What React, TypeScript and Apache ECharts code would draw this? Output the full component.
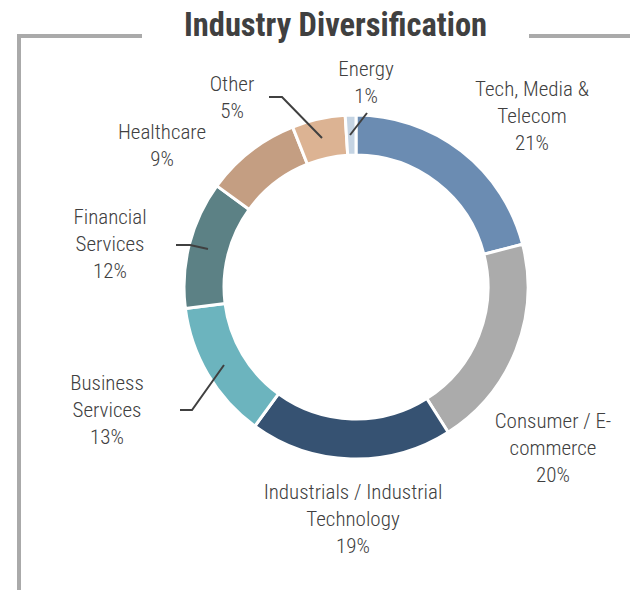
import React, { useEffect, useRef } from "react";
import * as echarts from "echarts";

const categories = [
  "Tech, Media &\nTelecom",
  "Consumer / E-\ncommerce",
  "Industrials / Industrial\nTechnology",
  "Business\nServices",
  "Financial\nServices",
  "Healthcare",
  "Other",
  "Energy",
];
const values = [21, 20, 19, 13, 12, 9, 5, 1];
const colors = ["#6b8cb2", "#ababab", "#365272", "#6cb4be", "#5c8185", "#c49e82", "#dcb393", "#c5d4e3"];
const showLine = [false, false, false, true, true, false, true, true];

// label centers and leader-line paths (layout only)
const labelPos = [
  [532, 116],
  [553, 448],
  [353, 519],
  [107, 410],
  [110, 244],
  [162, 145],
  [232, 97],
  [366, 82],
];
const linePaths: (number[][] | null)[] = [
  null,
  null,
  null,
  [[224, 365], [192, 410], [180, 410]],
  [[208, 249], [190, 245], [176, 245]],
  null,
  [[322, 138], [282, 97], [269, 97]],
  [[350, 135], [367, 113]],
];

const FONT = "'Roboto Condensed', 'Arial Narrow', 'Liberation Sans', Arial, sans-serif";

export default function App() {
  const ref = useRef<HTMLDivElement>(null);
  useEffect(() => {
    if (!ref.current) return;
    const chart = echarts.init(ref.current, null, { renderer: "svg" });
    const common = {
      type: "pie",
      center: [356, 287],
      radius: [132, 172],
      startAngle: 90,
      clockwise: true,
      avoidLabelOverlap: false,
    };
    chart.setOption({
      animation: false,
      backgroundColor: "#ffffff",
      title: {
        text: "Industry Diversification",
        left: 179,
        top: 3,
        textStyle: { fontFamily: FONT, fontSize: 32.5, fontWeight: "bold", color: "#404040" },
      },
      graphic: [
        { type: "line", shape: { x1: 19, y1: 36, x2: 19, y2: 590 }, style: { stroke: "#aaaaaa", lineWidth: 4 } },
        { type: "line", shape: { x1: 17, y1: 36, x2: 142, y2: 36 }, style: { stroke: "#aaaaaa", lineWidth: 4 } },
        { type: "line", shape: { x1: 529, y1: 36, x2: 630, y2: 36 }, style: { stroke: "#aaaaaa", lineWidth: 4 } },
      ],
      series: [
        {
          ...common,
          z: 2,
          itemStyle: { borderColor: "#ffffff", borderWidth: 3 },
          label: { show: false },
          labelLine: { show: false },
          data: categories.map((name, i) => ({
            name,
            value: values[i],
            itemStyle: { color: colors[i] },
          })),
        },
        {
          ...common,
          z: 4,
          silent: true,
          itemStyle: { color: "rgba(0,0,0,0)", borderWidth: 0 },
          label: {
            show: true,
            position: "outside",
            formatter: "{b}\n{c}%",
            fontFamily: FONT,
            fontSize: 21,
            fontWeight: 300,
            lineHeight: 27,
            color: "#404040",
            align: "center",
          },
          labelLine: { show: true, lineStyle: { color: "#404040", width: 2 } },
          labelLayout: (params: any) => {
            const i = params.dataIndex;
            const out: any = {
              x: labelPos[i][0],
              y: labelPos[i][1],
              align: "center",
              verticalAlign: "middle",
            };
            if (linePaths[i]) out.labelLinePoints = linePaths[i];
            return out;
          },
          data: categories.map((name, i) => ({
            name,
            value: values[i],
            labelLine: { show: showLine[i] },
          })),
        },
      ],
    });
    return () => chart.dispose();
  }, []);
  return (
    <div
      ref={ref}
      style={{ width: 630, height: 590, position: "fixed", left: 0, top: 0 }}
    />
  );
}
